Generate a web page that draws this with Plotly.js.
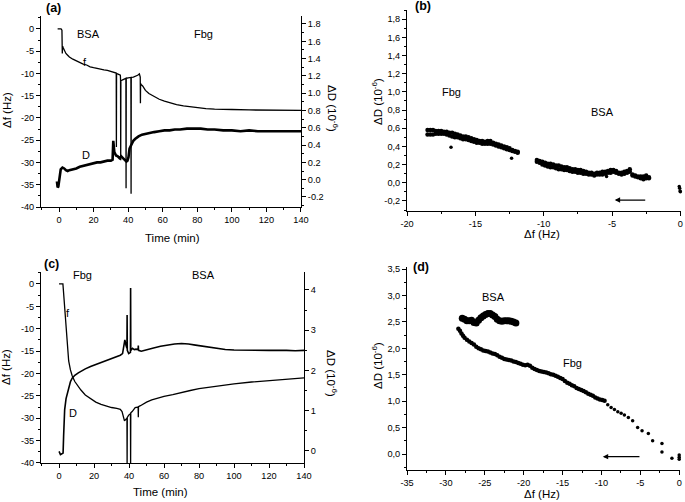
<!DOCTYPE html>
<html>
<head>
<meta charset="utf-8">
<script src="https://cdn.plot.ly/plotly-3.0.1.min.js"></script>
<style>
  html, body { margin: 0; padding: 0; background: #fff; }
  #chart { width: 685px; height: 502px; }
</style>
</head>
<body>
<div id="chart"></div>
<script>
// ---- (a) BSA first, then Fbg: frequency and dissipation vs time ----
const timeA_f = [-0.8, 0, 1.2, 1.7, 1.9, 2.1, 2.5, 3.2, 4, 5,
    6, 8, 10, 12, 14, 16, 18, 20, 22, 24,
    26, 28, 30, 32, 33.1, 33.2, 33.3, 34.5, 35.5, 35.6,
    35.7, 35.8, 36.5, 37.5, 38.7, 38.8, 38.9, 40, 41.6, 41.7,
    41.8, 43, 44.5, 45.5, 46.5, 47.0, 47.1, 47.2, 47.3, 48.4,
    50, 52, 55, 58, 61, 64, 68, 72, 76, 80,
    85, 90, 95, 100, 110, 120, 130, 140];
const freqA = [0, 0, 0, -0.3, -5.5, -3.9, -4.3, -4.9, -5.5, -5.9,
    -6.3, -6.8, -7.2, -7.6, -7.9, -8.1, -8.5, -8.7, -8.9, -9.0,
    -9.2, -9.3, -9.5, -9.7, -9.9, -26.5, -10.0, -10.2, -10.4, -11.4,
    -29.5, -11.6, -11.5, -11.3, -11.1, -35.8, -11.1, -11.0, -10.9, -37.0,
    -10.9, -10.8, -10.6, -10.4, -10.1, -10.8, -16.7, -12.2, -12.4, -12.8,
    -13.8, -14.5, -15.2, -15.8, -16.2, -16.6, -17.0, -17.3, -17.5, -17.7,
    -17.9, -18.0, -18.1, -18.1, -18.2, -18.2, -18.3, -18.3];
const timeA_D = [-1.2, -0.8, -0.4, 0, 0.5, 1, 2, 3, 4, 5,
    6, 8, 10, 12, 14, 16, 18, 20, 22, 24,
    26, 28, 30, 31, 31.4, 32, 33, 34, 35, 36,
    37, 38, 39, 39.6, 40.2, 40.8, 41.4, 42, 43, 44,
    45, 46, 48, 50, 52, 55, 58, 61, 64, 67,
    70, 74, 78, 82, 86, 90, 95, 100, 105, 110,
    115, 120, 125, 130, 135, 140];
const dissA = [-0.02, -0.09, -0.08, 0.0, 0.08, 0.12, 0.14, 0.13, 0.11, 0.10,
    0.11, 0.12, 0.13, 0.15, 0.16, 0.17, 0.18, 0.19, 0.20, 0.20,
    0.21, 0.22, 0.22, 0.23, 0.45, 0.32, 0.28, 0.27, 0.25, 0.27,
    0.25, 0.23, 0.21, 0.22, 0.26, 0.36, 0.39, 0.42, 0.45, 0.47,
    0.49, 0.50, 0.52, 0.53, 0.54, 0.55, 0.56, 0.57, 0.57, 0.58,
    0.58, 0.59, 0.59, 0.59, 0.58, 0.58, 0.57, 0.57, 0.56, 0.57,
    0.56, 0.56, 0.56, 0.56, 0.56, 0.56];

// ---- (b) dD vs df, BSA then Fbg ----
const fbgB_x = [-18.5, -18.3, -18.1, -17.9, -17.7, -17.5, -17.3, -17.1, -16.9, -16.7,
    -16.5, -16.3, -16.1, -15.9, -15.7, -15.5, -15.3, -15.1, -14.9, -14.7,
    -14.5, -14.3, -14.1, -13.9, -13.7, -13.5, -13.3, -13.1, -12.9, -12.7,
    -12.5, -12.3, -12.1, -11.9];
const fbgB_top = [0.58, 0.58, 0.58, 0.57, 0.57, 0.57, 0.56, 0.56, 0.55, 0.55,
    0.54, 0.53, 0.52, 0.51, 0.51, 0.50, 0.49, 0.48, 0.47, 0.46,
    0.46, 0.45, 0.46, 0.46, 0.44, 0.43, 0.42, 0.41, 0.40, 0.39,
    0.38, 0.36, 0.35, 0.34];
const fbgB_bot = [0.53, 0.53, 0.53, 0.54, 0.54, 0.54, 0.54, 0.53, 0.52, 0.51,
    0.50, 0.50, 0.49, 0.48, 0.48, 0.47, 0.46, 0.45, 0.44, 0.44,
    0.43, 0.43, 0.43, 0.43, 0.42, 0.41, 0.40, 0.39, 0.38, 0.37,
    0.36, 0.35, 0.34, 0.33];
const bsaB_x = [-10.5, -10.3, -10.1, -9.9, -9.7, -9.5, -9.3, -9.1, -8.9, -8.7,
    -8.5, -8.3, -8.1, -7.9, -7.7, -7.5, -7.3, -7.1, -6.9, -6.7,
    -6.5, -6.3, -6.1, -5.9, -5.7, -5.5, -5.3, -5.1, -4.9, -4.7,
    -4.5, -4.3, -4.1, -3.9, -3.7, -3.5, -3.3, -3.1, -2.9, -2.7,
    -2.5, -2.3];
const bsaB_top = [0.25, 0.24, 0.23, 0.22, 0.21, 0.21, 0.20, 0.19, 0.19, 0.18,
    0.17, 0.17, 0.16, 0.15, 0.15, 0.14, 0.14, 0.13, 0.12, 0.11,
    0.11, 0.10, 0.11, 0.11, 0.12, 0.12, 0.13, 0.14, 0.14, 0.13,
    0.11, 0.11, 0.12, 0.13, 0.15, 0.09, 0.08, 0.07, 0.07, 0.07,
    0.08, 0.06];
const bsaB_bot = [0.23, 0.22, 0.20, 0.19, 0.18, 0.17, 0.17, 0.16, 0.15, 0.15,
    0.14, 0.14, 0.13, 0.12, 0.12, 0.11, 0.11, 0.10, 0.10, 0.09,
    0.09, 0.08, 0.09, 0.09, 0.09, 0.10, 0.11, 0.11, 0.12, 0.11,
    0.10, 0.09, 0.10, 0.11, 0.12, 0.08, 0.07, 0.06, 0.05, 0.04,
    0.05, 0.05];
const strayB_x = [-16.78, -12.35, -5.4, -0.08, -0.05, -0.02, 0.0];
const strayB_y = [0.39, 0.27, 0.07, -0.04, -0.06, -0.09, -0.10];

// ---- (c) Fbg first, then BSA ----
const timeC_f = [0, 2.2, 2.5, 3.0, 3.6, 4.2, 4.8, 5.5, 6.5, 7.5,
    9, 10.5, 12.5, 15, 18, 21, 24, 27, 30, 33,
    35, 36, 36.8, 37.4, 38.0, 38.8, 38.9, 39.0, 39.8, 40.8,
    40.9, 41.0, 41.8, 42.6, 43.5, 45.2, 45.3, 45.4, 46.5, 48,
    50, 53, 56, 60, 65, 70, 75, 80, 90, 100,
    110, 120, 130, 140];
const freqC = [0, 0, -1.5, -4.5, -7.5, -11, -14.5, -17.2, -19.2, -20.5,
    -21.8, -22.7, -23.7, -24.8, -25.7, -26.4, -26.9, -27.3, -27.6, -27.8,
    -28.0, -28.5, -29.8, -30.6, -30.3, -30.0, -41, -29.8, -29.3, -29.0,
    -41, -28.8, -28.5, -28.0, -27.6, -27.5, -29.8, -27.4, -27.2, -26.8,
    -26.4, -25.9, -25.5, -25.1, -24.7, -24.2, -23.8, -23.4, -22.8, -22.3,
    -21.9, -21.6, -21.3, -21.0];
const timeC_D = [0, 0.8, 1.6, 2.3, 2.6, 3.2, 4.0, 4.8, 5.6, 6.5,
    7.5, 9, 11, 13, 15, 18, 21, 24, 27, 30,
    33, 35, 36.3, 37.0, 37.6, 38.3, 38.8, 38.9, 39.0, 39.8,
    40.8, 40.9, 41.0, 42, 43, 44, 45.2, 45.3, 45.4, 47,
    50, 54, 58, 62, 66, 70, 74, 78, 82, 86,
    90, 95, 100, 110, 120, 130, 135, 140];
const dissC = [-0.01, -0.09, -0.07, -0.05, 0.36, 1.02, 1.3, 1.45, 1.6, 1.72,
    1.81, 1.88, 1.94, 2.0, 2.04, 2.1, 2.15, 2.2, 2.25, 2.29,
    2.34, 2.38, 2.42, 2.65, 2.76, 2.62, 2.55, 3.38, 2.5, 2.42,
    2.45, 4.05, 2.5, 2.55, 2.52, 2.53, 2.52, 2.62, 2.5, 2.48,
    2.52, 2.56, 2.6, 2.63, 2.66, 2.67, 2.66, 2.63, 2.6, 2.57,
    2.54, 2.52, 2.51, 2.5, 2.5, 2.5, 2.49, 2.5];

// ---- (d) dD vs df, Fbg then BSA ----
const bsaD_x = [-27.9, -27.6, -27.3, -27.0, -26.7, -26.4, -26.1, -25.8, -25.5, -25.2,
    -24.9, -24.6, -24.3, -24.0, -23.7, -23.4, -23.1, -22.8, -22.5, -22.2,
    -21.9, -21.6, -21.3, -21.0];
const bsaD_y = [2.57, 2.55, 2.52, 2.52, 2.53, 2.49, 2.48, 2.53, 2.58, 2.61,
    2.64, 2.66, 2.66, 2.63, 2.60, 2.55, 2.52, 2.51, 2.52, 2.52,
    2.52, 2.51, 2.50, 2.48];
const fbgD_x = [-28.4, -28.2, -28.0, -27.8, -27.6, -27.3, -27.0, -26.7, -26.4, -26.1,
    -25.8, -25.5, -25.2, -24.9, -24.6, -24.3, -24.0, -23.7, -23.4, -23.1,
    -22.8, -22.5, -22.2, -21.9, -21.6, -21.3, -21.0, -20.7, -20.4, -20.1,
    -19.8, -19.5, -19.2, -18.9, -18.6, -18.3, -18.0, -17.7, -17.4, -17.1,
    -16.8, -16.5, -16.2, -15.9, -15.6, -15.3, -15.0, -14.7, -14.4, -14.1,
    -13.8, -13.5, -13.2, -12.9, -12.6, -12.3, -12.0, -11.7, -11.4, -11.1,
    -10.8, -10.5, -10.2, -9.9, -9.6];
const fbgD_y = [2.37, 2.33, 2.28, 2.24, 2.20, 2.16, 2.13, 2.10, 2.07, 2.03,
    2.00, 1.98, 1.96, 1.95, 1.94, 1.92, 1.90, 1.89, 1.87, 1.84,
    1.82, 1.80, 1.79, 1.78, 1.77, 1.75, 1.74, 1.72, 1.71, 1.69,
    1.68, 1.69, 1.67, 1.63, 1.61, 1.59, 1.57, 1.56, 1.55, 1.54,
    1.53, 1.51, 1.50, 1.48, 1.46, 1.44, 1.42, 1.38, 1.35, 1.33,
    1.30, 1.28, 1.25, 1.23, 1.21, 1.19, 1.17, 1.14, 1.12, 1.10,
    1.07, 1.05, 1.03, 1.02, 1.01];
const sparseD_x = [-9.19, -8.76, -8.33, -7.9, -7.47, -7.05, -6.54, -5.99, -5.35, -4.78,
    -3.97, -3.42, -2.22, -2.22, -0.94, 0, 0, 0];
const sparseD_y = [0.93, 0.88, 0.84, 0.80, 0.77, 0.74, 0.69, 0.63, 0.50, 0.44,
    0.39, 0.25, 0.20, 0.04, -0.08, -0.02, -0.06, -0.10];

// ---- tick labels ----
const timeTicks = [0, 20, 40, 60, 80, 100, 120, 140];
const timeTickText = ['0', '20', '40', '60', '80', '100', '120', '140'];
const freqTicks = [0, -5, -10, -15, -20, -25, -30, -35, -40];
const freqTickText = ['0', '-5', '-10', '-15', '-20', '-25', '-30', '-35', '-40'];
const dissTicksA = [1.8, 1.6, 1.4, 1.2, 1.0, 0.8, 0.6, 0.4, 0.2, 0.0, -0.2];
const dissTickTextA = ['1.8', '1.6', '1.4', '1.2', '1.0', '0.8', '0.6', '0.4', '0.2', '0.0', '-0.2'];
const dissTickTextB = ['1,8', '1,6', '1,4', '1,2', '1,0', '0,8', '0,6', '0,4', '0,2', '0,0', '-0,2'];
const shiftTicksB = [-20, -15, -10, -5, 0];
const shiftTickTextB = ['-20', '-15', '-10', '-5', '0'];
const dissTicksC = [0, 1, 2, 3, 4];
const dissTickTextC = ['0', '1', '2', '3', '4'];
const dissTicksD = [3.5, 3.0, 2.5, 2.0, 1.5, 1.0, 0.5, 0.0];
const dissTickTextD = ['3,5', '3,0', '2,5', '2,0', '1,5', '1,0', '0,5', '0,0'];
const shiftTicksD = [-35, -30, -25, -20, -15, -10, -5, 0];
const shiftTickTextD = ['-35', '-30', '-25', '-20', '-15', '-10', '-5', '0'];

const W = 685, H = 502;
const FONT = 'Liberation Sans, Arial, sans-serif';

function minor(step) {
    return {ticks: 'outside', ticklen: 2, tickwidth: 1, tickcolor: '#000',
            tickmode: 'linear', tick0: 0, dtick: step, showgrid: false};
}

function axis(opts) {
    return Object.assign({
        showline: true, linecolor: '#000', linewidth: 1,
        ticks: 'outside', ticklen: 4, tickwidth: 1, tickcolor: '#000',
        showgrid: false, zeroline: false, tickmode: 'array',
        tickfont: {size: 9.2, color: '#000', family: FONT},
        fixedrange: true
    }, opts);
}

// text placed by pixel position on the 685x502 page
function note(text, px, py, extra) {
    return Object.assign({
        xref: 'paper', yref: 'paper', x: px / W, y: 1 - py / H,
        text: text, showarrow: false, xanchor: 'center', yanchor: 'middle',
        font: {size: 11, color: '#000', family: FONT}
    }, extra || {});
}

const black = '#000';
const dissTitle = 'ΔD (10<sup>-6</sup>)';
const titleFont = {size: 11.5, color: '#000', family: FONT};
const panelFont = {size: 12.5, color: '#000', family: FONT, weight: 'bold'};

let traces = [
    // (a)
    {x: timeA_f, y: freqA, xaxis: 'x', yaxis: 'y', mode: 'lines',
     line: {color: black, width: 1.3}},
    {x: timeA_D, y: dissA, xaxis: 'x', yaxis: 'y2', mode: 'lines',
     line: {color: black, width: 2.6}},
    // (b)
    {x: fbgB_x.concat(fbgB_x), y: fbgB_top.concat(fbgB_bot), xaxis: 'x2', yaxis: 'y3',
     mode: 'markers', marker: {color: black, size: 4.5}, cliponaxis: false},
    {x: bsaB_x.concat(bsaB_x), y: bsaB_top.concat(bsaB_bot), xaxis: 'x2', yaxis: 'y3',
     mode: 'markers', marker: {color: black, size: 4.5}, cliponaxis: false},
    {x: strayB_x, y: strayB_y, xaxis: 'x2', yaxis: 'y3',
     mode: 'markers', marker: {color: black, size: 3.5}, cliponaxis: false},
    // (c)
    {x: timeC_f, y: freqC, xaxis: 'x3', yaxis: 'y4', mode: 'lines',
     line: {color: black, width: 1.3}},
    {x: timeC_D, y: dissC, xaxis: 'x3', yaxis: 'y5', mode: 'lines',
     line: {color: black, width: 1.6}},
    // (d)
    {x: bsaD_x, y: bsaD_y, xaxis: 'x4', yaxis: 'y6',
     mode: 'markers', marker: {color: black, size: 7}, cliponaxis: false},
    {x: fbgD_x, y: fbgD_y, xaxis: 'x4', yaxis: 'y6',
     mode: 'markers', marker: {color: black, size: 4.5}, cliponaxis: false},
    {x: sparseD_x, y: sparseD_y, xaxis: 'x4', yaxis: 'y6',
     mode: 'markers', marker: {color: black, size: 3.5}, cliponaxis: false}
];

let layout = {
    width: W, height: H,
    margin: {l: 0, r: 0, t: 0, b: 0},
    paper_bgcolor: '#fff', plot_bgcolor: 'rgba(0,0,0,0)',
    showlegend: false, hovermode: false,
    font: {family: FONT, color: '#000'},

    xaxis: axis({domain: [0.0599, 0.4394], range: [-10.4, 140], anchor: 'y',
                 tickvals: timeTicks, ticktext: timeTickText, minor: minor(10)}),
    yaxis: axis({domain: [0.5876, 0.9681], range: [-40, 2.9], anchor: 'x',
                 tickvals: freqTicks, ticktext: freqTickText, minor: minor(2.5)}),
    yaxis2: axis({overlaying: 'y', side: 'right', anchor: 'x', range: [-0.316, 1.892],
                  tickvals: dissTicksA, ticktext: dissTickTextA, minor: minor(0.1)}),

    xaxis2: axis({domain: [0.5942, 0.9942], range: [-20, 0.05], anchor: 'y3',
                  tickvals: shiftTicksB, ticktext: shiftTickTextB, minor: minor(2.5)}),
    yaxis3: axis({domain: [0.5803, 0.980], range: [-0.307, 1.9], anchor: 'x2',
                  tickvals: dissTicksA, ticktext: dissTickTextB, minor: minor(0.1)}),

    xaxis3: axis({domain: [0.0599, 0.4438], range: [-10.3, 140], anchor: 'y4',
                  tickvals: timeTicks, ticktext: timeTickText, minor: minor(10)}),
    yaxis4: axis({domain: [0.0777, 0.4582], range: [-40, 2.68], anchor: 'x3',
                  tickvals: freqTicks, ticktext: freqTickText, minor: minor(2.5)}),
    yaxis5: axis({overlaying: 'y4', side: 'right', anchor: 'x3', range: [-0.298, 4.447],
                  tickvals: dissTicksC, ticktext: dissTickTextC, minor: minor(0.5)}),

    xaxis4: axis({domain: [0.5942, 0.9927], range: [-35, 0.1], anchor: 'y6',
                  tickvals: shiftTicksD, ticktext: shiftTickTextD, minor: minor(2.5)}),
    yaxis6: axis({domain: [0.0637, 0.4687], range: [-0.303, 3.544], anchor: 'x4',
                  tickvals: dissTicksD, ticktext: dissTickTextD, minor: minor(0.25)}),

    annotations: [
        // panel letters
        note('(a)', 53, 8, {font: panelFont}),
        note('(b)', 423, 6, {font: panelFont}),
        note('(c)', 51, 264, {font: panelFont}),
        note('(d)', 421, 267, {font: panelFont}),
        // axis titles
        note('Δf (Hz)', 7, 110, {textangle: -90, font: titleFont}),
        note(dissTitle, 333, 108, {textangle: 90, font: titleFont}),
        note('Time (min)', 172, 238, {font: titleFont}),
        note(dissTitle, 377, 102, {textangle: -90, font: titleFont}),
        note('Δf (Hz)', 542, 234, {font: titleFont}),
        note('Δf (Hz)', 6, 367, {textangle: -90, font: titleFont}),
        note(dissTitle, 332, 373, {textangle: 90, font: titleFont}),
        note('Time (min)', 160, 492, {font: titleFont}),
        note(dissTitle, 377, 366, {textangle: -90, font: titleFont}),
        note('Δf (Hz)', 542, 494, {font: titleFont}),
        // curve and protein labels
        note('BSA', 88, 34), note('Fbg', 203, 34),
        note('f', 85, 62), note('D', 86, 155),
        note('Fbg', 452, 92), note('BSA', 602, 112),
        note('Fbg', 82, 275), note('BSA', 203, 275),
        note('f', 68, 313), note('D', 73, 413),
        note('BSA', 493, 297), note('Fbg', 572, 363),
        // direction arrows
        {xref: 'x2', yref: 'y3', x: -4.8, y: -0.19, axref: 'x2', ayref: 'y3',
         ax: -2.46, ay: -0.19, text: '', showarrow: true, arrowhead: 2,
         arrowsize: 0.9, arrowwidth: 1.2, arrowcolor: black},
        {xref: 'x4', yref: 'y6', x: -9.83, y: -0.05, axref: 'x4', ayref: 'y6',
         ax: -4.92, ay: -0.05, text: '', showarrow: true, arrowhead: 2,
         arrowsize: 0.9, arrowwidth: 1.2, arrowcolor: black}
    ]
};

Plotly.newPlot('chart', traces, layout, {staticPlot: true, displayModeBar: false});
</script>
</body>
</html>
